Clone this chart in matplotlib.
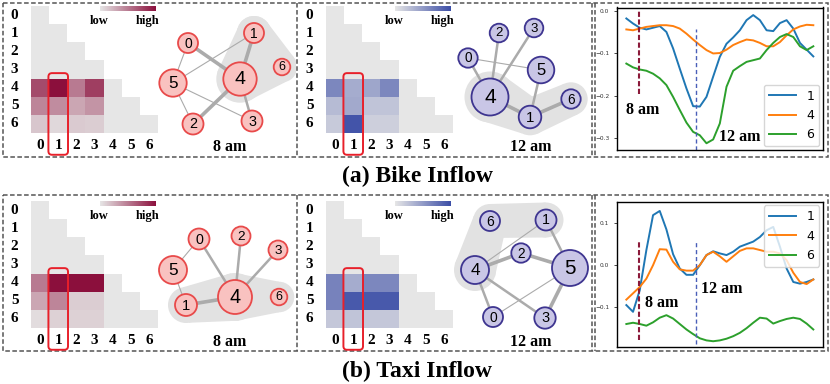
import numpy as np
import matplotlib
matplotlib.use("Agg")
import matplotlib.pyplot as plt
from matplotlib.colors import LinearSegmentedColormap
from matplotlib.patches import Circle, Polygon, Rectangle, FancyBboxPatch
from matplotlib.cm import ScalarMappable

W, H = 830, 384
SERIF = "Liberation Serif"
SANS = "Liberation Sans"

# heat maps: lower-triangular rows, 0 = grey ... 1 = darkest
heat_bike_8am = [[0], [0, 0], [0, 0, 0], [0, 0, 0, 0],
                 [0.72, 1.0, 0.5, 0.78, 0],
                 [0.45, 0.42, 0.3, 0.38, 0, 0],
                 [0.15, 0.07, 0.13, 0.12, 0, 0, 0]]
heat_bike_12am = [[0], [0, 0], [0, 0, 0], [0, 0, 0, 0],
                  [0.62, 0.38, 0.42, 0.62, 0],
                  [0.28, 0.4, 0.22, 0.22, 0, 0],
                  [0.18, 0.95, 0.15, 0.15, 0, 0, 0]]
heat_taxi_8am = [[0], [0, 0], [0, 0, 0], [0, 0, 0, 0],
                 [0.5, 1.0, 1.0, 1.0, 0],
                 [0.3, 0.45, 0.12, 0.12, 0, 0],
                 [0.05, 0.1, 0.1, 0.1, 0, 0, 0]]
heat_taxi_12am = [[0], [0, 0], [0, 0, 0], [0, 0, 0, 0],
                  [0.65, 0.38, 0.62, 0.62, 0],
                  [0.65, 0.92, 0.92, 0.92, 0, 0],
                  [0.2, 0.22, 0.2, 0.2, 0, 0, 0]]

# graphs: node 0..6 position / radius (panel pixels), edges (a, b, weight), shaded group
bike_8am_x = [188, 254, 193, 252, 240, 173, 282]
bike_8am_y = [43, 33, 124, 121, 79, 83, 67]
bike_8am_r = [10, 10, 10.5, 10.5, 16.7, 13.7, 8.3]
bike_8am_edges = [(0, 4, 3), (1, 4, 3), (4, 2, 3), (4, 3, 2),
                  (0, 5, 1), (5, 1, 1), (5, 3, 1), (5, 2, 1)]
bike_8am_group = [1, 4, 6, 1]

bike_12am_x = [173, 235, 204, 239, 195, 246, 276]
bike_12am_y = [58, 117, 33, 28, 97, 70, 99]
bike_12am_r = [9.7, 11.3, 9.3, 9.3, 18.5, 13.3, 9.7]
bike_12am_edges = [(0, 5, 1), (0, 4, 2), (2, 4, 2), (3, 4, 2),
                   (5, 1, 2), (4, 1, 3), (1, 6, 3)]
bike_12am_group = [4, 1, 6]

taxi_8am_x = [199, 186, 241, 278, 235, 173, 279]
taxi_8am_y = [44, 110, 41, 55, 102, 75, 102]
taxi_8am_r = [10.5, 11, 9.5, 9.5, 17, 14, 8.3]
taxi_8am_edges = [(0, 5, 1), (0, 4, 2), (2, 4, 2), (3, 4, 2),
                  (5, 1, 1), (1, 4, 3)]
taxi_8am_group = [1, 4, 6]

taxi_12am_x = [198, 251, 226, 250, 180, 275, 195]
taxi_12am_y = [122, 25, 58, 123, 75, 73, 26]
taxi_12am_r = [10, 10.5, 9.7, 10.7, 14, 18, 10]
taxi_12am_edges = [(4, 1, 1), (1, 5, 2), (4, 2, 3), (2, 5, 3),
                   (4, 0, 2), (4, 3, 2), (0, 5, 1), (5, 3, 3)]
taxi_12am_group = [4, 6, 1]

# inflow curves for nodes 1, 4, 6
t = np.arange(29)
bike_s1 = [-0.017, -0.029, -0.039, -0.043, -0.039, -0.035, -0.049, -0.088, -0.136, -0.183,
           -0.225, -0.226, -0.203, -0.155, -0.108, -0.077, -0.062, -0.045, -0.021, -0.009,
           -0.021, -0.045, -0.047, -0.028, -0.021, -0.041, -0.075, -0.091, -0.107]
bike_s4 = [-0.043, -0.045, -0.041, -0.037, -0.035, -0.033, -0.033, -0.035, -0.041, -0.053,
           -0.067, -0.080, -0.092, -0.100, -0.099, -0.091, -0.080, -0.073, -0.067, -0.069,
           -0.075, -0.083, -0.083, -0.073, -0.057, -0.043, -0.036, -0.032, -0.033]
bike_s6 = [-0.124, -0.133, -0.138, -0.141, -0.148, -0.159, -0.175, -0.203, -0.234, -0.264,
           -0.286, -0.294, -0.313, -0.304, -0.266, -0.179, -0.141, -0.130, -0.120, -0.116,
           -0.112, -0.092, -0.075, -0.061, -0.054, -0.061, -0.083, -0.092, -0.083]
taxi_s1 = [-0.095, -0.111, -0.060, 0.036, 0.119, 0.129, 0.085, 0.026, -0.008, -0.023,
           -0.023, 0.000, 0.024, 0.033, 0.028, 0.024, 0.032, 0.044, 0.050, 0.056,
           0.067, 0.083, 0.091, 0.044, -0.008, -0.040, -0.044, -0.040, -0.034]
taxi_s4 = [-0.082, -0.067, -0.052, -0.032, 0.000, 0.038, 0.037, 0.008, -0.010, -0.013,
           -0.013, 0.000, 0.024, 0.032, 0.021, 0.008, 0.021, 0.034, 0.040, 0.040,
           0.036, 0.032, 0.032, 0.028, 0.012, -0.018, -0.040, -0.045, -0.034]
taxi_s6 = [-0.140, -0.137, -0.140, -0.144, -0.136, -0.125, -0.119, -0.127, -0.140, -0.153,
           -0.164, -0.174, -0.179, -0.181, -0.179, -0.175, -0.169, -0.161, -0.150, -0.137,
           -0.125, -0.127, -0.139, -0.133, -0.128, -0.125, -0.128, -0.139, -0.153]
t_8am, t_12am = 1.85, 10.4

RED_CMAP = LinearSegmentedColormap.from_list("red", ["#e6e6e6", "#8b0f3c"])
BLUE_CMAP = LinearSegmentedColormap.from_list("blue", ["#e6e6e6", "#3b4da6"])
EDGE_W = {1: 0.8, 2: 1.8, 3: 2.6}

fig = plt.figure(figsize=(W / 100, H / 100), dpi=100)
ax0 = fig.add_axes([0, 0, 1, 1])
ax0.set_xlim(0, W)
ax0.set_ylim(H, 0)
ax0.axis("off")


def px_axes(x0, y0, w, h):
    return fig.add_axes([x0 / W, 1 - (y0 + h) / H, w / W, h / H])


def draw_heat(x0, y0, rows, cmap):
    ax = px_axes(x0 + 31, y0 + 6, 127, 127)
    n = len(rows)
    m = np.full((n, n), np.nan)
    for i, r in enumerate(rows):
        m[i, :len(r)] = r
    ax.pcolormesh(np.ma.masked_invalid(m), cmap=cmap, vmin=0, vmax=1,
                  edgecolors="none")
    ax.set_xlim(0, n)
    ax.set_ylim(n, 0)
    ax.axis("off")
    lab = dict(fontsize=11, family=SERIF, weight="bold", ha="center", va="center")
    for k in range(n):
        ax.text(-0.9, k + 0.5, str(k), **lab)
        ax.text(k + 0.5, 7.7, str(k), **lab)
    ax.add_patch(FancyBboxPatch((0.96, 3.7), 1.08, 4.5,
                                boxstyle="round,pad=0,rounding_size=0.2",
                                ec="#e8202a", fc="none", lw=1.4, clip_on=False))
    cax = ax.inset_axes([3.8, 0.0, 3.1, 0.3], transform=ax.transData)
    cb = fig.colorbar(ScalarMappable(cmap=cmap), cax=cax, orientation="horizontal")
    cb.outline.set_visible(False)
    cax.set_xticks([])
    small = dict(fontsize=9, family=SERIF, weight="bold", ha="center", va="center")
    ax.text(3.73, 0.81, "low", **small)
    ax.text(6.4, 0.81, "high", **small)


def draw_graph(x0, y0, xs, ys, rs, edges, group, face, ring, label):
    ax = px_axes(x0, y0, 296, 157)
    ax.set_xlim(0, 296)
    ax.set_ylim(157, 0)
    ax.axis("off")
    pad = 7
    blob = "#e2e2e2"
    for k in group:
        ax.add_patch(Circle((xs[k], ys[k]), rs[k] + pad, fc=blob, ec="none", zorder=0))
    for a, b in zip(group[:-1], group[1:]):
        pa, pb = np.array([xs[a], ys[a]]), np.array([xs[b], ys[b]])
        d = (pb - pa) / np.hypot(*(pb - pa))
        nrm = np.array([-d[1], d[0]])
        ra, rb = rs[a] + pad, rs[b] + pad
        quad = [pa + nrm * ra, pb + nrm * rb, pb - nrm * rb, pa - nrm * ra]
        ax.add_patch(Polygon(quad, fc=blob, ec="none", zorder=0))
    if group[0] == group[-1]:
        ax.add_patch(Polygon([(xs[k], ys[k]) for k in group], fc=blob, ec="none", zorder=0))
    for a, b, w in edges:
        ax.plot([xs[a], xs[b]], [ys[a], ys[b]], color="#ababab", lw=EDGE_W[w], zorder=1)
    for k in range(len(xs)):
        ax.add_patch(Circle((xs[k], ys[k]), rs[k], fc=face, ec=ring, lw=1.3, zorder=2))
        ax.text(xs[k], ys[k] + 0.5, str(k), fontsize=4 + 0.6 * rs[k], family=SANS,
                ha="center", va="center", zorder=3)
    ax.text(236 if "12" in label else 230, 147, label, fontsize=11.5, family=SERIF,
            weight="bold", ha="center", va="center")


def draw_lines(rect, s1, s4, s6, ylim, yticks, am_span, pm_span, am_xy, pm_xy, loc):
    ax = px_axes(*rect)
    ax.plot(t, s1, color="#1f77b4", lw=1.4, label="1")
    ax.plot(t, s4, color="#ff7f0e", lw=1.4, label="4")
    ax.plot(t, s6, color="#2ca02c", lw=1.4, label="6")
    ax.plot([t_8am, t_8am], am_span, color="#8b1a3a", lw=1.5, ls=(0, (2.5, 1.2)))
    ax.plot([t_12am, t_12am], pm_span, color="#4a5fb8", lw=1.0, ls=(0, (3, 2)))
    txt = dict(fontsize=11.5, family=SERIF, weight="bold", va="center", ha="left")
    ax.text(*am_xy, "8 am", **txt)
    ax.text(*pm_xy, "12 am", **txt)
    ax.set_xlim(-1.4, 29.45)
    ax.set_ylim(*ylim)
    ax.set_xticks([])
    ax.set_yticks(yticks)
    ax.tick_params(axis="y", labelsize=4.2, length=2, width=0.5, labelcolor="#333333")
    for s in ax.spines.values():
        s.set_linewidth(1.0)
    ax.legend(loc=loc, fontsize=9, handlelength=2.2, borderaxespad=0.3)


rows = [(0, heat_bike_8am, heat_bike_12am,
         (bike_8am_x, bike_8am_y, bike_8am_r, bike_8am_edges, bike_8am_group),
         (bike_12am_x, bike_12am_y, bike_12am_r, bike_12am_edges, bike_12am_group),
         "(a) Bike Inflow"),
        (195, heat_taxi_8am, heat_taxi_12am,
         (taxi_8am_x, taxi_8am_y, taxi_8am_r, taxi_8am_edges, taxi_8am_group),
         (taxi_12am_x, taxi_12am_y, taxi_12am_r, taxi_12am_edges, taxi_12am_group),
         "(b) Taxi Inflow")]

for y0, h_am, h_pm, g_am, g_pm, caption in rows:
    draw_heat(0, y0, h_am, RED_CMAP)
    draw_heat(295, y0, h_pm, BLUE_CMAP)
    draw_graph(0, y0, *g_am, "#f9c2c0", "#e84a4a", "8 am")
    draw_graph(295, y0, *g_pm, "#c9c6e6", "#3e3590", "12 am")
    ax0.text(417, y0 + 176, caption, fontsize=17, family=SERIF, weight="bold",
             ha="center", va="center")

draw_lines((617, 7.5, 206, 142.5), bike_s1, bike_s4, bike_s6, (-0.329, 0.009),
           [0.0, -0.1, -0.2, -0.3], (-0.195, 0.0), (-0.329, -0.041),
           (-0.1, -0.234), (13.9, -0.298), "lower right")
draw_lines((617, 201.7, 206, 145), taxi_s1, taxi_s4, taxi_s6, (-0.194, 0.151),
           [0.1, 0.0, -0.1], (-0.179, 0.060), (-0.187, 0.060),
           (2.75, -0.091), (11.15, -0.057), "upper right")

# dashed frames
dash = dict(fc="none", ec="#555555", lw=1.1, ls=(0, (3, 1.6)))
for top, h in [(3, 154), (195, 156)]:
    ax0.add_patch(Rectangle((3, top), 825, h, **dash))
    for xd in (296.5, 591.5, 595):
        ax0.plot([xd, xd], [top, top + h], color="#555555", lw=1.1, ls=(0, (3, 1.6)))

fig.savefig("out.png", dpi=100)
